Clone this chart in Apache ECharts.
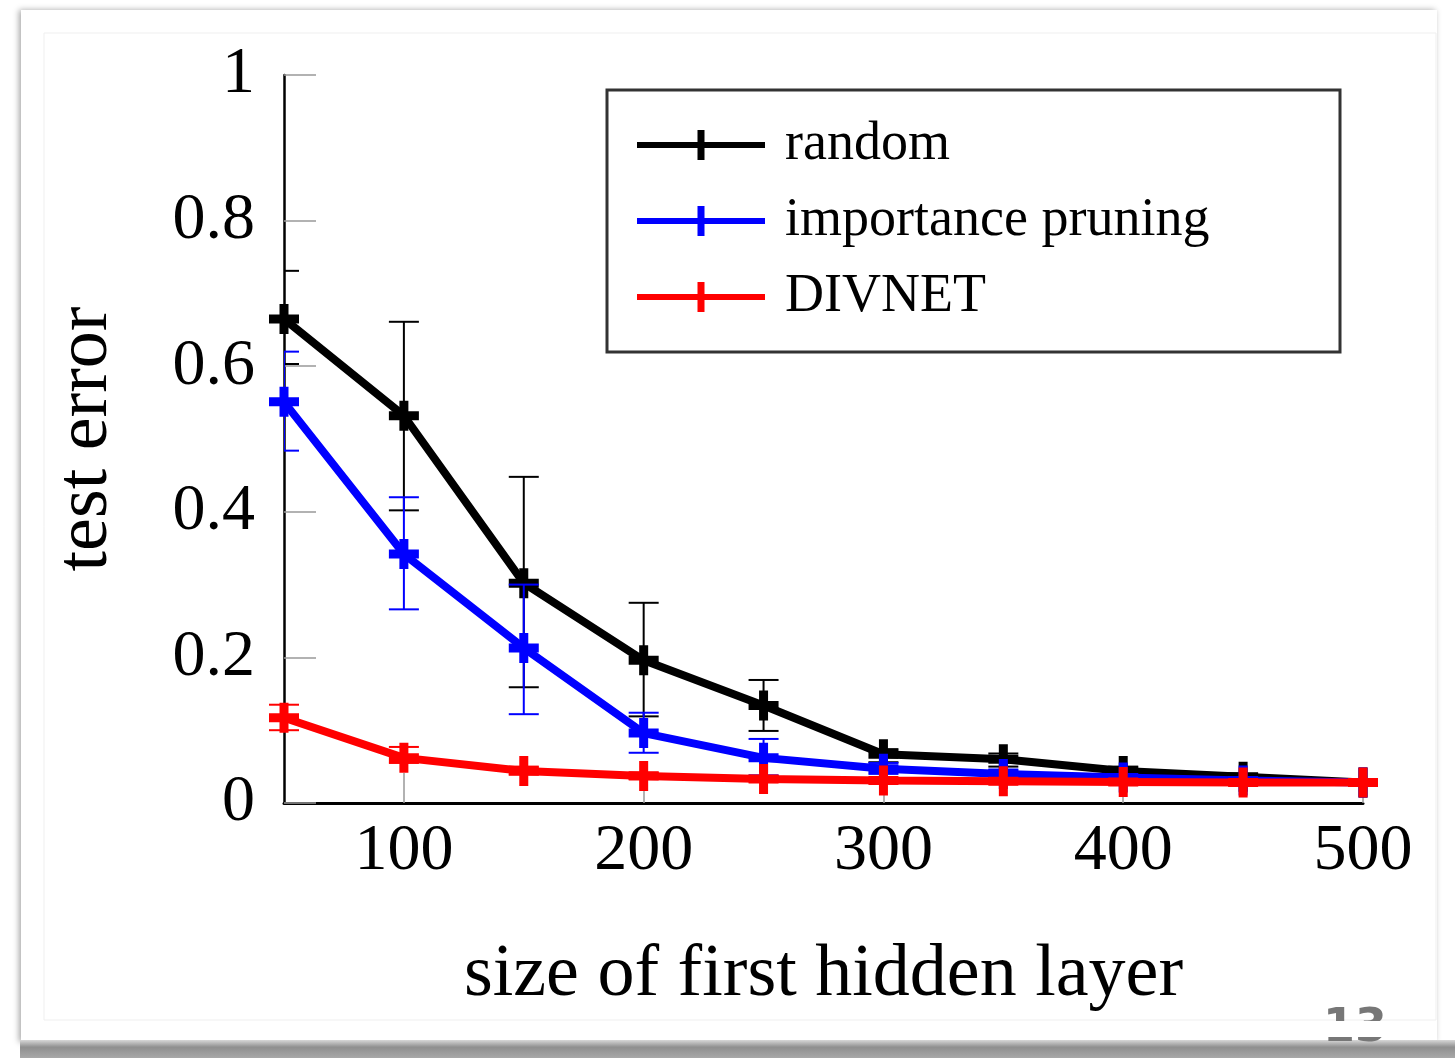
<!DOCTYPE html>
<html>
<head>
<meta charset="utf-8">
<script src="https://cdn.jsdelivr.net/npm/echarts@6/dist/echarts.min.js"></script>
<style>
  html, body { margin: 0; padding: 0; background: #fff; }
  #chart { width: 1455px; height: 1058px; }
</style>
</head>
<body>
<div id="chart"></div>
<script>
// hidden layer sizes
const sizes = [50, 100, 150, 200, 250, 300, 350, 400, 450, 500];

// random
const randomMean = [0.665, 0.532, 0.302, 0.196, 0.134, 0.067, 0.060, 0.044, 0.036, 0.028];
const randomLow  = [0.603, 0.402, 0.159, 0.119, 0.099, 0.056, 0.050, 0.038, 0.032, 0.026];
const randomHigh = [0.731, 0.661, 0.448, 0.275, 0.169, 0.074, 0.068, 0.050, 0.040, 0.030];

// importance pruning
const pruneMean = [0.551, 0.342, 0.213, 0.096, 0.062, 0.047, 0.040, 0.035, 0.031, 0.028];
const pruneLow  = [0.484, 0.266, 0.122, 0.069, 0.038, 0.040, 0.035, 0.031, 0.028, 0.026];
const pruneHigh = [0.620, 0.420, 0.300, 0.124, 0.088, 0.055, 0.046, 0.039, 0.034, 0.030];

// DIVNET
const divMean = [0.117, 0.062, 0.044, 0.037, 0.033, 0.031, 0.030, 0.029, 0.028, 0.028];
const divLow  = [0.100, 0.055, 0.039, 0.033, 0.030, 0.028, 0.027, 0.027, 0.026, 0.027];
const divHigh = [0.135, 0.077, 0.050, 0.042, 0.037, 0.034, 0.033, 0.031, 0.030, 0.029];

const xTicks = [100, 200, 300, 400, 500];
const names = ['random', 'importance pruning', 'DIVNET'];

const FONT = 'Liberation Serif';
const CROSS = 'path://M10.5,0H19.5V10.5H30V19.5H19.5V30H10.5V19.5H0V10.5H10.5Z';
const LEGEND_ICON = 'path://M0,12H60.5V0H67.5V12H128V18H67.5V30H60.5V18H0Z';

function errorBars(color) {
    return function (params, api) {
        const x = api.value(0);
        const top = api.coord([x, api.value(2)]);
        const bot = api.coord([x, api.value(1)]);
        const half = 15;
        const style = { stroke: color, lineWidth: 2 };
        return {
            type: 'group',
            children: [
                { type: 'line', shape: { x1: top[0], y1: top[1], x2: bot[0], y2: bot[1] }, style: style },
                { type: 'line', shape: { x1: top[0] - half, y1: top[1], x2: top[0] + half, y2: top[1] }, style: style },
                { type: 'line', shape: { x1: bot[0] - half, y1: bot[1], x2: bot[0] + half, y2: bot[1] }, style: style }
            ]
        };
    };
}

function lineSeries(name, mean, color, z) {
    return {
        name: name,
        type: 'line',
        z: z,
        data: sizes.map((s, i) => [s, mean[i]]),
        symbol: CROSS,
        symbolSize: 30,
        showAllSymbol: true,
        clip: false,
        lineStyle: { color: color, width: 8 },
        itemStyle: { color: color, borderWidth: 0 },
        emphasis: { disabled: true },
        animation: false
    };
}

function errSeries(name, low, high, color, z, clip) {
    return {
        name: name,
        type: 'custom',
        z: z,
        clip: clip,
        data: sizes.map((s, i) => [s, low[i], high[i]]),
        renderItem: errorBars(color),
        encode: { x: 0, y: [1, 2] },
        itemStyle: { color: color },
        silent: true,
        animation: false
    };
}

const chart = echarts.init(document.getElementById('chart'));

const option = {
    backgroundColor: '#fff',
    animation: false,
    graphic: [
        {
            type: 'rect', z: -20,
            shape: { x: 21, y: 10, width: 1416, height: 1032 },
            style: { fill: '#fff', shadowBlur: 6, shadowColor: 'rgba(0,0,0,0.35)', shadowOffsetX: -2 }
        },
        {
            type: 'rect', z: -19,
            shape: { x: 44, y: 33, width: 1392, height: 987 },
            style: { fill: 'none', stroke: '#efefef', lineWidth: 1 }
        },
        {
            type: 'rect', z: -18,
            shape: { x: 20, y: 1040, width: 1435, height: 18 },
            style: {
                fill: new echarts.graphic.LinearGradient(0, 0, 0, 1, [
                    { offset: 0, color: '#d8d8d8' },
                    { offset: 0.4, color: '#8f8f8f' },
                    { offset: 1, color: '#a8a8a8' }
                ])
            }
        },
        {
            type: 'text', z: -17,
            style: { x: 1355, y: 1029, text: '13', fill: '#777', font: 'bold 46px "DejaVu Sans"', textAlign: 'center', textVerticalAlign: 'middle' }
        },
        {
            type: 'rect', z: -16,
            shape: { x: 1320, y: 1021, width: 70, height: 16 },
            style: { fill: '#fff' }
        }
    ],
    grid: {
        left: 284,
        right: 92,
        top: 75,
        bottom: 255
    },
    legend: {
        data: names,
        orient: 'vertical',
        left: 607,
        top: 90,
        padding: [25, 38, 25, 30],
        itemGap: 16,
        itemWidth: 128,
        itemHeight: 30,
        icon: LEGEND_ICON,
        selectedMode: false,
        borderColor: '#333',
        borderWidth: 3,
        backgroundColor: '#fff',
        itemStyle: { borderWidth: 0 },
        textStyle: {
            fontFamily: FONT,
            fontSize: 54,
            color: '#000',
            lineHeight: 60,
            width: 517,
            padding: [0, 0, 0, 15]
        }
    },
    xAxis: {
        type: 'value',
        min: 50,
        max: 500,
        name: 'size of first hidden layer',
        nameLocation: 'middle',
        nameGap: 136,
        nameTextStyle: { fontFamily: FONT, fontSize: 74, color: '#000' },
        axisLine: { show: true, onZero: false, lineStyle: { color: '#000', width: 3 } },
        axisTick: {
            show: true, inside: true, length: 30,
            customValues: xTicks,
            lineStyle: { color: '#999', width: 1.5 }
        },
        axisLabel: {
            customValues: xTicks,
            margin: 16,
            fontFamily: FONT,
            fontSize: 66,
            color: '#000'
        },
        splitLine: { show: false }
    },
    yAxis: {
        type: 'value',
        min: 0,
        max: 1,
        interval: 0.2,
        name: 'test error',
        nameLocation: 'middle',
        nameGap: 160,
        nameRotate: 90,
        nameTextStyle: { fontFamily: FONT, fontSize: 74, color: '#000' },
        axisLine: { show: true, lineStyle: { color: '#000', width: 2.5 } },
        axisTick: { show: true, inside: true, length: 32, lineStyle: { color: '#999', width: 1.5 } },
        axisLabel: {
            margin: 29,
            fontFamily: FONT,
            fontSize: 66,
            color: '#000'
        },
        splitLine: { show: false }
    },
    series: [
        errSeries('random', randomLow, randomHigh, '#000', 2, true),
        lineSeries('random', randomMean, '#000', 3),
        errSeries('importance pruning', pruneLow, pruneHigh, '#0000ff', 4, true),
        lineSeries('importance pruning', pruneMean, '#0000ff', 5),
        errSeries('DIVNET', divLow, divHigh, '#ff0000', 6, false),
        lineSeries('DIVNET', divMean, '#ff0000', 7)
    ]
};

chart.setOption(option);
</script>
</body>
</html>
